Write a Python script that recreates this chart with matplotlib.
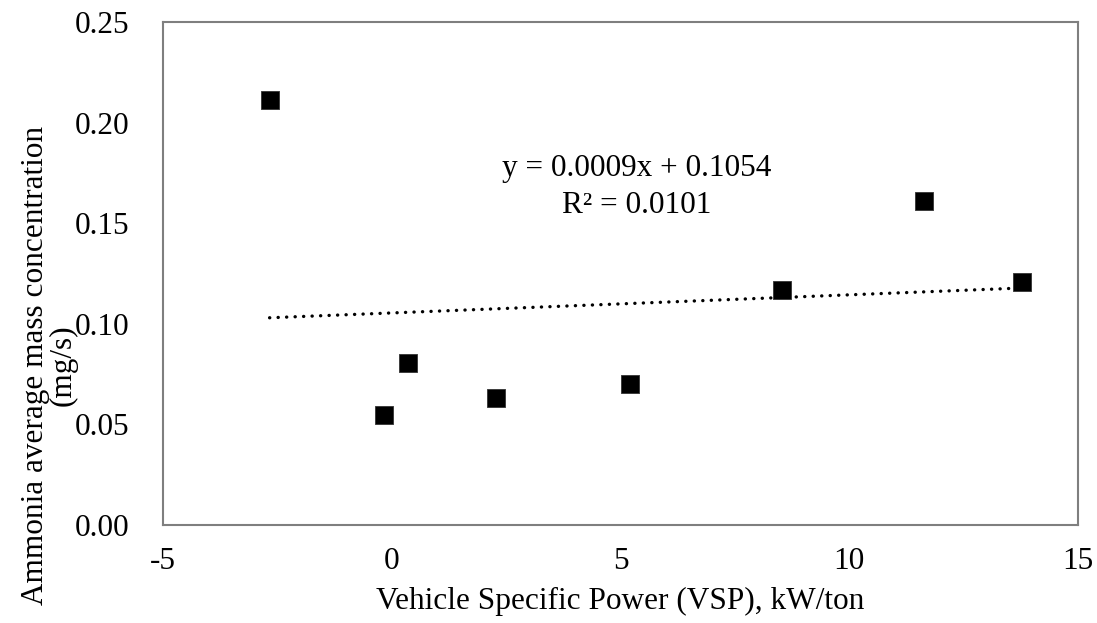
import numpy as np
import matplotlib
matplotlib.use("Agg")
import matplotlib.pyplot as plt

# Data
vsp = [-2.67, -0.18, 0.36, 2.28, 5.20, 8.52, 11.63, 13.78]
nh3 = [0.211, 0.0547, 0.0805, 0.0633, 0.070, 0.1168, 0.161, 0.1208]
slope = 0.0009
intercept = 0.1054
r2 = 0.0101
x_ticks = [-5, 0, 5, 10, 15]
y_ticks = [0.00, 0.05, 0.10, 0.15, 0.20, 0.25]

plt.rcParams['font.family'] = ['Liberation Serif', 'DejaVu Serif']

W, H = 1097, 623
fig = plt.figure(figsize=(W / 100, H / 100), dpi=100)
ax = fig.add_axes([163 / W, (H - 525) / H, (1078 - 163) / W, (525 - 22) / H])

ax.scatter(vsp, nh3, marker='s', s=155, color='black', edgecolors='#333333',
           linewidths=0.6, zorder=3)

xs = np.array([min(vsp), max(vsp)])
ax.plot(xs, slope * xs + intercept, color='black', linewidth=2.4,
        linestyle=(0, (0.05, 2.5)), dash_capstyle='round', zorder=2)

fs = 22.5
ax.text(5.35, 0.1770, f"y = {slope:.4f}x + {intercept:.4f}", ha='center', va='center',
        fontsize=fs)
ax.text(5.35, 0.1590, f"R² = {r2:.4f}", ha='center', va='center', fontsize=fs)

ax.set_xlim(-5, 15)
ax.set_ylim(0, 0.25)
ax.set_xticks(x_ticks)
ax.set_xticklabels([f"{t:g}" for t in x_ticks])
ax.set_yticks(y_ticks)
ax.set_yticklabels([f"{t:.2f}" for t in y_ticks])
ax.tick_params(axis='both', length=0, labelsize=fs)
ax.tick_params(axis='y', pad=24)
ax.tick_params(axis='x', pad=16)

for sp in ax.spines.values():
    sp.set_color('#7f7f7f')
    sp.set_linewidth(1.5)

ax.set_xlabel("Vehicle Specific Power (VSP), kW/ton", fontsize=fs, labelpad=8)
ax.set_ylabel("Ammonia average mass concentration\n(mg/s)", fontsize=fs,
              linespacing=0.95)
ax.yaxis.set_label_coords(-0.093, 0.318)

fig.savefig("out.png", dpi=100)
